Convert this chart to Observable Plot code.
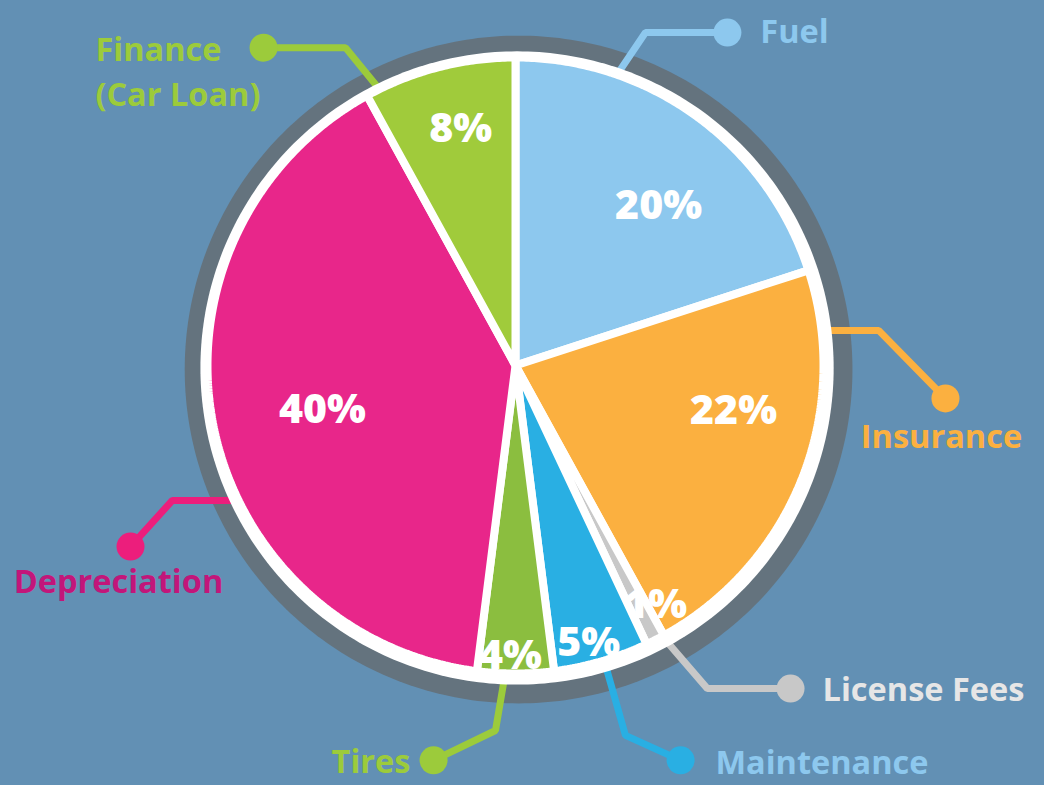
<!DOCTYPE html>
<html>
<head>
<meta charset="utf-8">
<script src="https://cdn.jsdelivr.net/npm/d3@7"></script>
<script src="https://cdn.jsdelivr.net/npm/@observablehq/plot@0.6"></script>
<style>
  html, body { margin: 0; padding: 0; background: #6290B4; }
  #chart svg { display: block; }
</style>
</head>
<body>
<div id="chart"></div>
<script>
// ---- data ----
const categories = ["Fuel", "Insurance", "License Fees", "Maintenance", "Tires", "Depreciation", "Finance (Car Loan)"];
const values = [20, 22, 1, 5, 4, 40, 8];
const labelTexts = ["Fuel", "Insurance", "License Fees", "Maintenance", "Tires", "Depreciation", "Finance\n(Car Loan)"];

// ---- styles ----
const sliceColors = ["#8DC8EE", "#FBB040", "#C8C8C8", "#29AFE3", "#8BBE3F", "#E8268A", "#A0CB3B"];
const leaderColors = ["#8DC8EE", "#FBB040", "#C8C8C8", "#29AFE3", "#9CCB3B", "#EC1E7C", "#9CCB3B"];
const labelColors = ["#8DC8EE", "#FBB040", "#E6E6E6", "#8DC8EE", "#9CCB3B", "#C2167A", "#9CCB3B"];

// ---- layout (pie-radius units, y up, pie centre at 0,0) ----
const W = 1044, H = 785, R = 308, CX = 515, CY = 365;
const calloutPaths = [
  [[0.30, 0.90], [0.422, 1.081], [0.688, 1.081]],
  [[0.95, 0.114], [1.179, 0.114], [1.396, -0.107]],
  [[0.46, -0.86], [0.623, -1.049], [0.893, -1.049]],
  [[0.28, -0.93], [0.357, -1.201], [0.536, -1.282]],
  [[-0.03, -0.98], [-0.065, -1.185], [-0.266, -1.282]],
  [[-0.90, -0.438], [-1.114, -0.438], [-1.25, -0.588]],
  [[-0.42, 0.87], [-0.552, 1.032], [-0.818, 1.032]]
];
const labelPos = [[0.795, 1.094], [1.383, -0.221], [0.997, -1.042], [0.649, -1.279], [-0.341, -1.276], [-1.289, -0.692], [-1.364, 0.963]];
const labelAnchor = ["start", "middle", "start", "start", "end", "middle", "start"];
// percentage label placement: [angle offset from slice middle (deg), radius]
const pctPlace = [[5.8, 0.697], [-9.9, 0.723], [-3.3, 0.902], [1.4, 0.93], [1.0, 0.942], [-2.2, 0.643], [1.4, 0.79]];

// ---- geometry ----
const rad = d => d * Math.PI / 180;
const pt = (a, r) => [r * Math.sin(rad(a)), r * Math.cos(rad(a))];

const total = d3.sum(values);
let acc = 0;
const slices = categories.map((c, i) => {
  const a0 = acc / total * 360;
  acc += values[i];
  const a1 = acc / total * 360;
  return {cat: c, value: values[i], a0, a1, mid: (a0 + a1) / 2};
});

const slicePts = [];
slices.forEach(s => {
  slicePts.push({cat: s.cat, x: 0, y: 0});
  const n = Math.max(2, Math.ceil((s.a1 - s.a0) / 0.5));
  for (let k = 0; k <= n; k++) {
    const [x, y] = pt(s.a0 + (s.a1 - s.a0) * k / n, 1);
    slicePts.push({cat: s.cat, x, y});
  }
  slicePts.push({cat: s.cat, x: 0, y: 0});
});

function circle(cx, cy, r, id) {
  return d3.range(0, 361, 1).map(a => ({id, x: cx + r * Math.sin(rad(a)), y: cy + r * Math.cos(rad(a))}));
}
const shadowRing = circle(0.01, -0.013, 1.084, "shadow");
const whiteDisk = circle(0.005, -0.008, 1.028, "disk");

const pctLabels = slices.map((s, i) => {
  const [x, y] = pt(s.mid + pctPlace[i][0], pctPlace[i][1]);
  return {cat: s.cat, text: s.value + "%", x, y};
});

const leaderPts = [];
calloutPaths.forEach((p, i) => p.forEach(([x, y]) => leaderPts.push({cat: categories[i], x, y})));
const dots = calloutPaths.map((p, i) => ({cat: categories[i], x: p[p.length - 1][0], y: p[p.length - 1][1]}));
const names = categories.map((c, i) => ({cat: c, text: labelTexts[i], x: labelPos[i][0], y: labelPos[i][1], anchor: labelAnchor[i], color: labelColors[i]}));

const font = "'Open Sans', 'DejaVu Sans', sans-serif";

const plot = Plot.plot({
  width: W,
  height: H,
  margin: 0,
  x: {domain: [-CX / R, (W - CX) / R], axis: null},
  y: {domain: [-(H - CY) / R, CY / R], axis: null},
  color: {domain: categories, range: sliceColors},
  style: {background: "#6290B4", fontFamily: font},
  marks: [
    Plot.line(shadowRing, {x: "x", y: "y", fill: "#64737E", stroke: "none"}),
    Plot.line(leaderPts, {x: "x", y: "y", z: "cat", stroke: d => leaderColors[categories.indexOf(d.cat)], strokeWidth: 7, strokeLinejoin: "miter"}),
    Plot.dot(dots, {x: "x", y: "y", r: 14, fill: d => leaderColors[categories.indexOf(d.cat)], stroke: "none"}),
    Plot.line(whiteDisk, {x: "x", y: "y", fill: "#FFFFFF", stroke: "none"}),
    Plot.line(slicePts, {x: "x", y: "y", z: "cat", fill: "cat", stroke: "#FFFFFF", strokeWidth: 8, strokeLinejoin: "miter"}),
    Plot.text(pctLabels, {x: "x", y: "y", text: "text", fill: "#FFFFFF", fontSize: 41, fontWeight: 800, fontFamily: font}),
    ...["start", "middle", "end"].map(anchor =>
      Plot.text(names.filter(d => d.anchor === anchor), {x: "x", y: "y", text: "text", fill: "color", textAnchor: anchor, fontSize: 32.5, fontWeight: "bold", lineHeight: 1.4, fontFamily: font})
    )
  ]
});
document.getElementById("chart").appendChild(plot);
</script>
</body>
</html>
